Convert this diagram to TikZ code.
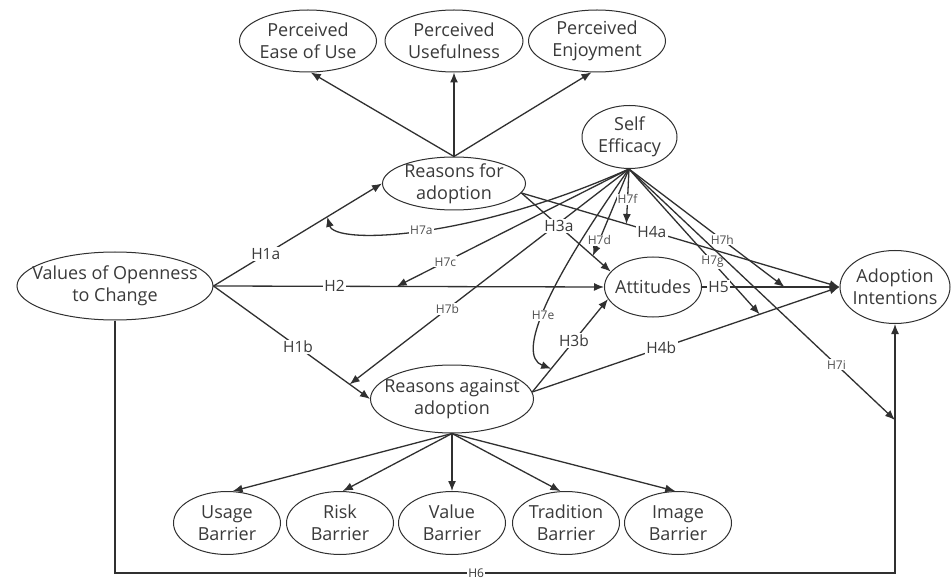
\documentclass[tikz,border=0pt]{standalone}
\usepackage{fontspec}
\setmainfont{Open Sans}
\usetikzlibrary{shapes.geometric,arrows.meta,calc}
\definecolor{ink}{HTML}{303030}
\definecolor{txt}{HTML}{3A3A3A}
\definecolor{lbl}{HTML}{505050}
\begin{document}
\begin{tikzpicture}[x=1pt,y=-1pt,
  lat/.style={ellipse,draw=ink,line width=1pt,inner sep=0pt},
  ltext/.style={align=center,text=txt,font=\fontsize{18}{22}\selectfont,inner sep=0pt},
  con/.style={draw=ink,line width=1.3pt},
  arr/.style={con,-{Latex[length=10pt,width=8pt]}},
  hl/.style={fill=white,inner sep=1.5pt,text=txt,font=\fontsize{15.5}{17}\selectfont},
  sl/.style={fill=white,inner sep=1pt,text=lbl,font=\fontsize{12}{14}\selectfont},
]
\fill[white] (0,0) rectangle (951,580);
\useasboundingbox (0,0) rectangle (951,580);

% latent variables
\node[lat,minimum width=137pt,minimum height=62pt] (peou) at (308,41) {};
\node[ltext] at (peou) {Perceived\\Ease of Use};
\node[lat,minimum width=138pt,minimum height=62pt] (pu) at (454,41) {};
\node[ltext] at (pu) {Perceived\\Usefulness};
\node[lat,minimum width=137pt,minimum height=62pt] (pe) at (597,41) {};
\node[ltext] at (pe) {Perceived\\Enjoyment};
\node[lat,minimum width=95pt,minimum height=63pt] (se) at (629.5,137) {};
\node[ltext] at (se) {Self\\Efficacy};
\node[lat,minimum width=143pt,minimum height=53pt] (rf) at (454,183.5) {};
\node[ltext] at (rf) {Reasons for\\adoption};
\node[lat,minimum width=196pt,minimum height=68pt] (voc) at (115,286) {};
\node[ltext] at (voc) {Values of Openness\\to Change};
\node[lat,minimum width=97pt,minimum height=60pt] (att) at (653,287) {};
\node[ltext] at (att) {Attitudes};
\node[lat,minimum width=110pt,minimum height=73pt] (ai) at (895,287) {};
\node[ltext] at (ai) {Adoption\\Intentions};
\node[lat,minimum width=163pt,minimum height=68pt] (ra) at (452,399) {};
\node[ltext] at (ra) {Reasons against\\adoption};
\node[lat,minimum width=107pt,minimum height=63pt] (ub) at (227,523) {};
\node[ltext] at (ub) {Usage\\Barrier};
\node[lat,minimum width=107pt,minimum height=63pt] (rb) at (340,523) {};
\node[ltext] at (rb) {Risk\\Barrier};
\node[lat,minimum width=107pt,minimum height=63pt] (vb) at (452,523) {};
\node[ltext] at (vb) {Value\\Barrier};
\node[lat,minimum width=107pt,minimum height=63pt] (tb) at (566,523) {};
\node[ltext] at (tb) {Tradition\\Barrier};
\node[lat,minimum width=107pt,minimum height=63pt] (ib) at (678,523) {};
\node[ltext] at (ib) {Image\\Barrier};

% helper coordinates
\coordinate (hub) at (629,169);
\coordinate (h6) at (0,573);
\coordinate (t7a) at ($(voc.east)!0.675!(rf.west)$);
\coordinate (t7c) at ($(voc.east)!0.469!(att.west)$);
\coordinate (t7b) at ($(voc.east)!0.87!(ra.west)$);
\coordinate (t7d) at ($(rf.-8)!0.8!(att.160)$);
\coordinate (t7e) at ($(ra.5)!0.25!(att.195)$);
\coordinate (t7f) at ($(rf.-8)!0.33!(ai.west)$);
\coordinate (t7h) at ($(att.east)!0.6!(ai.west)$);
\coordinate (t7g) at ($(ra.5)!0.74!(ai.west)$);
\coordinate (t7i) at (ai.south |- 0,420);

% first-order indicators
\draw[arr] (rf.north) -- (peou.-85);
\draw[arr] (rf.north) -- (pu.south);
\draw[arr] (rf.north) -- (pe.-100);
\draw[arr] (ra.south) -- (ub.80);
\draw[arr] (ra.south) -- (rb.85);
\draw[arr] (ra.south) -- (vb.north);
\draw[arr] (ra.south) -- (tb.100);
\draw[arr] (ra.south) -- (ib.95);

% moderation paths from self efficacy
\draw[arr] (hub) .. controls (470,240) and (335,245) .. node[sl,pos=0.5]{H7a} (t7a);
\draw[arr] (hub) -- node[sl,pos=0.79]{H7c} (t7c);
\draw[arr] (hub) -- node[sl,pos=0.65]{H7b} (t7b);
\draw[arr] (hub) -- node[sl,pos=0.82]{H7d} (t7d);
\draw[arr] (hub) .. controls (550,280) and (515,355) .. node[sl,pos=0.55]{H7e} (t7e);
\draw[arr] (hub) -- node[sl,pos=0.55]{H7f} (t7f);
\draw[arr] (hub) -- node[sl,pos=0.6]{H7h} (t7h);
\draw[arr] (hub) -- node[sl,pos=0.64]{H7g} (t7g);
\draw[arr] (hub) -- node[sl,pos=0.78]{H7i} (t7i);

% structural paths
\draw[arr] (voc.east) -- node[hl,pos=0.31]{H1a} (rf.west);
\draw[arr] (voc.east) -- node[hl,pos=0.31]{H2} (att.west);
\draw[arr] (voc.east) -- node[hl,pos=0.54]{H1b} (ra.west);
\draw[arr] (rf.-8) -- node[hl,pos=0.42]{H3a} (att.160);
\draw[arr] (rf.-8) -- node[hl,pos=0.41]{H4a} (ai.west);
\draw[arr] (att.east) -- node[hl,pos=0.12]{H5} (ai.west);
\draw[arr] (ra.5) -- node[hl,pos=0.55]{H3b} (att.195);
\draw[arr] (ra.5) -- node[hl,pos=0.42]{H4b} (ai.west);
\draw[arr] (voc.south) -- (voc.south |- h6) -- node[sl,pos=0.463,text=txt]{H6} (ai.south |- h6) -- (ai.south);
\end{tikzpicture}
\end{document}
